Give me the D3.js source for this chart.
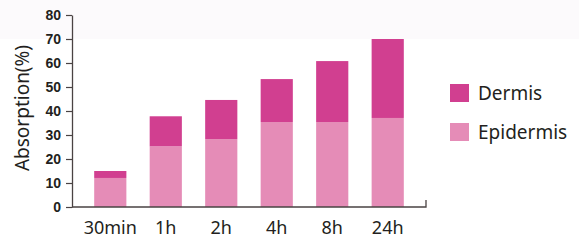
<!DOCTYPE html>
<html>
<head>
<meta charset="utf-8">
<script src="https://cdn.jsdelivr.net/npm/d3@7"></script>
<style>
  body { margin: 0; background: #fff; }
  svg { display: block; }
</style>
</head>
<body>
<svg id="chart" width="579" height="240"></svg>
<script>
// data
var times = ["30min", "1h", "2h", "4h", "8h", "24h"];
var epidermis = [12.1, 25.3, 28.3, 35.4, 35.4, 37.1];
var dermis = [2.9, 12.5, 16.3, 17.9, 25.4, 32.9];
var yTicks = [0, 10, 20, 30, 40, 50, 60, 70, 80];
var seriesNames = ["Dermis", "Epidermis"];

var svg = d3.select("svg#chart"),
    width = +svg.attr("width"),
    height = +svg.attr("height");

var colors = { Dermis: "#d13f90", Epidermis: "#e58cb7" };
var axisColor = "#4a4343";

// faint band at the top
svg.append("rect")
    .attr("x", 0).attr("y", 0)
    .attr("width", width).attr("height", 39)
    .attr("fill", "#fcfafc");

var x = d3.scaleBand()
    .domain(times)
    .range([72, 426])
    .paddingInner(0.42)
    .paddingOuter(0.4);

var y = d3.scaleLinear()
    .domain([0, 80])
    .range([207, 15]);

// stack the two series
var rows = times.map(function(t, i) {
  return { time: t, Epidermis: epidermis[i], Dermis: dermis[i] };
});
var stacked = d3.stack().keys(["Epidermis", "Dermis"])(rows);

svg.append("g")
  .selectAll("g")
  .data(stacked)
  .enter().append("g")
    .attr("fill", function(d) { return colors[d.key]; })
  .selectAll("rect")
  .data(function(d) { return d; })
  .enter().append("rect")
    .attr("x", function(d) { return x(d.data.time); })
    .attr("y", function(d) { return y(d[1]); })
    .attr("width", x.bandwidth())
    .attr("height", function(d) { return y(d[0]) - y(d[1]); });

// y axis
var yAxis = svg.append("g")
    .attr("transform", "translate(72,0)")
    .call(d3.axisLeft(y).tickValues(yTicks).tickSize(6).tickSizeOuter(0).tickPadding(5));
yAxis.select(".domain").attr("stroke", axisColor).attr("stroke-width", 1.3);
yAxis.selectAll(".tick line").attr("stroke", axisColor).attr("stroke-width", 1.2);
yAxis.selectAll(".tick text")
    .attr("fill", "#231f20")
    .style("font-family", "'Liberation Sans', Arial, sans-serif")
    .style("font-weight", "bold")
    .style("font-size", "14px");

// x axis line with small end tick
var xr = x.range();
svg.append("path")
    .attr("d", "M" + xr[0] + "," + y(0) + "H" + xr[1] + "V" + (y(0) - 7))
    .attr("fill", "none")
    .attr("stroke", axisColor)
    .attr("stroke-width", 1.3);

svg.append("g")
  .selectAll("text")
  .data(times)
  .enter().append("text")
    .attr("x", function(d) { return x(d) + x.bandwidth() / 2; })
    .attr("y", 234)
    .attr("text-anchor", "middle")
    .attr("fill", "#231f20")
    .style("font-family", "'Noto Sans', sans-serif")
    .style("font-size", "18px")
    .text(function(d) { return d; });

// y label
svg.append("text")
    .attr("transform", "translate(29,108) rotate(-90)")
    .attr("text-anchor", "middle")
    .attr("fill", "#231f20")
    .style("font-family", "'Noto Sans', sans-serif")
    .style("font-size", "19px")
    .text("Absorption(%)");

// legend
var legend = svg.append("g")
  .selectAll("g")
  .data(seriesNames)
  .enter().append("g")
    .attr("transform", function(d, i) { return "translate(450," + (84 + i * 39) + ")"; });

legend.append("rect")
    .attr("width", 19).attr("height", 18)
    .attr("fill", function(d) { return colors[d]; });

legend.append("text")
    .attr("x", 28).attr("y", 16)
    .attr("fill", "#231f20")
    .style("font-family", "'Noto Sans', sans-serif")
    .style("font-size", "19px")
    .text(function(d) { return d; });
</script>
</body>
</html>
